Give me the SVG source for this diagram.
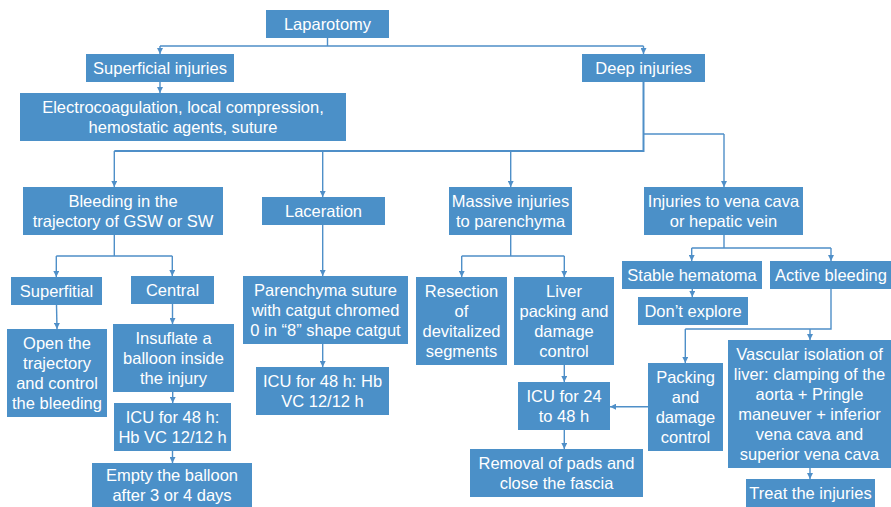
<svg xmlns="http://www.w3.org/2000/svg" width="891" height="507" viewBox="0 0 891 507">
  <style>
    .box { fill: #4b90c8; }
    .lbl { font-family: "Liberation Sans", Arial, Helvetica, sans-serif; font-size: 16.5px; fill: #ffffff; text-anchor: middle; }
    .ln { fill: none; stroke: #4f8fc8; stroke-width: 1.4; }
    .trunk { stroke-width: 2; }
  </style>
  <defs>
    <marker id="arr" markerUnits="userSpaceOnUse" markerWidth="6" markerHeight="6" refX="6" refY="3" orient="auto">
      <path d="M0,0 L6,3 L0,6 z" fill="#4f8fc8"/>
    </marker>
  </defs>
  <rect width="891" height="507" fill="#ffffff"/>

  <!-- connectors -->
  <g id="connectors">
    <path class="ln" d="M327.5,38 V46 M160,46 H643.5"/>
    <path class="ln" d="M160,46 V54" marker-end="url(#arr)"/>
    <path class="ln" d="M643.5,46 V54" marker-end="url(#arr)"/>
    <path class="ln" d="M160,82 V93" marker-end="url(#arr)"/>

    <path class="ln trunk" d="M643.5,82 V151 H114.3"/>
    <path class="ln" d="M643.5,134 H724"/>
    <path class="ln" d="M114.3,151 V187" marker-end="url(#arr)"/>
    <path class="ln" d="M322.7,151 V197" marker-end="url(#arr)"/>
    <path class="ln" d="M510.7,151 V187" marker-end="url(#arr)"/>
    <path class="ln" d="M724,134 V187" marker-end="url(#arr)"/>

    <path class="ln" d="M114.3,235 V256 M56.3,256 H172.3"/>
    <path class="ln" d="M56.3,256 V277" marker-end="url(#arr)"/>
    <path class="ln" d="M172.3,256 V276" marker-end="url(#arr)"/>
    <path class="ln" d="M56.5,305 L57,329" marker-end="url(#arr)"/>
    <path class="ln" d="M172.5,304 V324" marker-end="url(#arr)"/>
    <path class="ln" d="M172.7,392 V403" marker-end="url(#arr)"/>
    <path class="ln" d="M172.5,451 V463" marker-end="url(#arr)"/>

    <path class="ln" d="M322.7,225 V276" marker-end="url(#arr)"/>
    <path class="ln" d="M322.7,344 V367" marker-end="url(#arr)"/>

    <path class="ln" d="M510.7,235 V256 M461.7,256 H564.3"/>
    <path class="ln" d="M461.7,256 V277" marker-end="url(#arr)"/>
    <path class="ln" d="M564.3,256 V277" marker-end="url(#arr)"/>
    <path class="ln" d="M564.3,365 V382" marker-end="url(#arr)"/>
    <path class="ln" d="M564.3,430 V449" marker-end="url(#arr)"/>
    <path class="ln" d="M648,406.7 H610" marker-end="url(#arr)"/>

    <path class="ln" d="M724,235 V248 M691.7,248 H831"/>
    <path class="ln" d="M691.7,248 V261" marker-end="url(#arr)"/>
    <path class="ln" d="M831,248 V261" marker-end="url(#arr)"/>
    <path class="ln" d="M692.3,289 V297" marker-end="url(#arr)"/>
    <path class="ln" d="M831,289 V329 H685.3"/>
    <path class="ln" d="M810,329 V340" marker-end="url(#arr)"/>
    <path class="ln" d="M685.3,329 V363" marker-end="url(#arr)"/>
    <path class="ln" d="M810,468 V479" marker-end="url(#arr)"/>
  </g>

  <!-- nodes -->
  <g id="laparotomy"><rect class="box" x="266" y="10" width="123" height="28"/><text class="lbl" x="327.5" y="30">Laparotomy</text></g>
  <g id="superficial"><rect class="box" x="86" y="54" width="148" height="28"/><text class="lbl" x="160" y="74">Superficial injuries</text></g>
  <g id="superficial-treatment"><rect class="box" x="20" y="93" width="326" height="48"/><text class="lbl" x="183" y="113">Electrocoagulation, local compression,</text><text class="lbl" x="183" y="133">hemostatic agents, suture</text></g>
  <g id="deep"><rect class="box" x="582" y="54" width="123" height="28"/><text class="lbl" x="643.5" y="74">Deep injuries</text></g>

  <g id="bleeding-trajectory"><rect class="box" x="23" y="187" width="200" height="48"/><text class="lbl" x="123" y="207">Bleeding in the</text><text class="lbl" x="123" y="227">trajectory of GSW or SW</text></g>
  <g id="laceration"><rect class="box" x="262" y="197" width="123" height="28"/><text class="lbl" x="323.5" y="217">Laceration</text></g>
  <g id="massive"><rect class="box" x="449" y="187" width="123" height="48"/><text class="lbl" x="510.5" y="207">Massive injuries</text><text class="lbl" x="510.5" y="227">to parenchyma</text></g>
  <g id="vena-cava"><rect class="box" x="644" y="187" width="159" height="48"/><text class="lbl" x="723.5" y="207">Injuries to vena cava</text><text class="lbl" x="723.5" y="227">or hepatic vein</text></g>

  <g id="superfitial"><rect class="box" x="11" y="277" width="91" height="28"/><text class="lbl" x="56.5" y="297">Superfitial</text></g>
  <g id="central"><rect class="box" x="131" y="276" width="83" height="28"/><text class="lbl" x="172.5" y="296">Central</text></g>
  <g id="parenchyma-suture"><rect class="box" x="243" y="276" width="165" height="68"/><text class="lbl" x="325.5" y="296">Parenchyma suture</text><text class="lbl" x="325.5" y="316">with catgut chromed</text><text class="lbl" x="325.5" y="336">0 in “8” shape catgut</text></g>
  <g id="resection"><rect class="box" x="416" y="277" width="91" height="88"/><text class="lbl" x="461.5" y="297">Resection</text><text class="lbl" x="461.5" y="317">of</text><text class="lbl" x="461.5" y="337">devitalized</text><text class="lbl" x="461.5" y="357">segments</text></g>
  <g id="liver-packing"><rect class="box" x="514" y="277" width="100" height="88"/><text class="lbl" x="564" y="297">Liver</text><text class="lbl" x="564" y="317">packing and</text><text class="lbl" x="564" y="337">damage</text><text class="lbl" x="564" y="357">control</text></g>
  <g id="stable-hematoma"><rect class="box" x="622" y="261" width="140" height="28"/><text class="lbl" x="692" y="281">Stable hematoma</text></g>
  <g id="active-bleeding"><rect class="box" x="770" y="261" width="121" height="28"/><text class="lbl" x="831" y="281">Active bleeding</text></g>
  <g id="dont-explore"><rect class="box" x="638" y="297" width="110" height="28"/><text class="lbl" x="693" y="317">Don’t explore</text></g>

  <g id="open-trajectory"><rect class="box" x="7" y="329" width="100" height="88"/><text class="lbl" x="57" y="349">Open the</text><text class="lbl" x="57" y="369">trajectory</text><text class="lbl" x="57" y="389">and control</text><text class="lbl" x="57" y="409">the bleeding</text></g>
  <g id="insuflate"><rect class="box" x="113" y="324" width="121" height="68"/><text class="lbl" x="173.5" y="344">Insuflate a</text><text class="lbl" x="173.5" y="364">balloon inside</text><text class="lbl" x="173.5" y="384">the injury</text></g>
  <g id="icu-balloon"><rect class="box" x="114" y="403" width="117" height="48"/><text class="lbl" x="172.5" y="423">ICU for 48 h:</text><text class="lbl" x="172.5" y="443">Hb VC 12/12 h</text></g>
  <g id="empty-balloon"><rect class="box" x="92" y="463" width="160" height="44"/><text class="lbl" x="172" y="481">Empty the balloon</text><text class="lbl" x="172" y="501">after 3 or 4 days</text></g>
  <g id="icu-suture"><rect class="box" x="256" y="367" width="133" height="48"/><text class="lbl" x="322.5" y="387">ICU for 48 h: Hb</text><text class="lbl" x="322.5" y="407">VC 12/12 h</text></g>
  <g id="icu-packing"><rect class="box" x="518" y="382" width="92" height="48"/><text class="lbl" x="564" y="402">ICU for 24</text><text class="lbl" x="564" y="422">to 48 h</text></g>
  <g id="removal-pads"><rect class="box" x="470" y="449" width="173" height="48"/><text class="lbl" x="556.5" y="469">Removal of pads and</text><text class="lbl" x="556.5" y="489">close the fascia</text></g>
  <g id="packing-damage"><rect class="box" x="648" y="363" width="75" height="88"/><text class="lbl" x="685.5" y="383">Packing</text><text class="lbl" x="685.5" y="403">and</text><text class="lbl" x="685.5" y="423">damage</text><text class="lbl" x="685.5" y="443">control</text></g>
  <g id="vascular-isolation"><rect class="box" x="728" y="340" width="163" height="128"/><text class="lbl" x="809.5" y="360">Vascular isolation of</text><text class="lbl" x="809.5" y="380">liver: clamping of the</text><text class="lbl" x="809.5" y="400">aorta + Pringle</text><text class="lbl" x="809.5" y="420">maneuver + inferior</text><text class="lbl" x="809.5" y="440">vena cava and</text><text class="lbl" x="809.5" y="460">superior vena cava</text></g>
  <g id="treat-injuries"><rect class="box" x="746" y="479" width="129" height="28"/><text class="lbl" x="810.5" y="499">Treat the injuries</text></g>
</svg>
